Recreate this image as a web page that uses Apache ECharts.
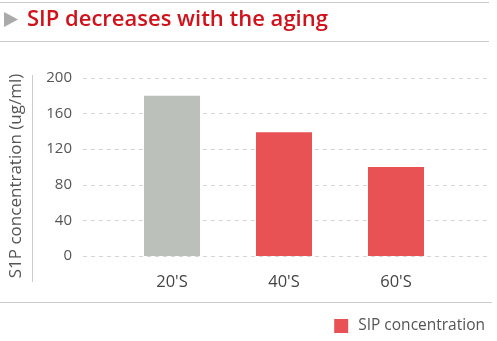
<!DOCTYPE html>
<html>
<head>
<meta charset="utf-8">
<script src="https://cdn.jsdelivr.net/npm/echarts@6/dist/echarts.min.js"></script>
<style>
  html, body { margin: 0; padding: 0; background: #fff; }
  #chart { width: 497px; height: 341px; }
</style>
</head>
<body>
<div id="chart"></div>
<script>
// Age groups and S1P concentration (ug/ml)
const categories = ["20'S", "40'S", "60'S"];
const values = [180, 139, 100];
const barColors = ['#bcc0ba', '#e85255', '#e85255'];
const seriesName = 'SIP concentration';
const yTicks = { min: 0, max: 200, interval: 40 };

const FONT = '"Open Sans", "Noto Sans", sans-serif';

const chart = echarts.init(document.getElementById('chart'), null, { renderer: 'canvas' });

chart.setOption({
  backgroundColor: '#ffffff',
  animation: false,
  title: {
    text: 'SIP decreases with the aging',
    left: 22,
    top: 4,
    textStyle: { color: '#d0121b', fontSize: 22, fontWeight: 600, fontFamily: FONT }
  },
  legend: {
    data: [seriesName],
    right: 7,
    top: 313,
    icon: 'rect',
    itemWidth: 14,
    itemHeight: 14,
    textStyle: { color: '#555', fontSize: 15.5, fontFamily: FONT, padding: [0, 0, 0, 5] }
  },
  grid: [
    { left: 82, right: 7, top: 78, height: 178 },
    { left: 116, width: 336, top: 78, height: 178 }
  ],
  xAxis: [
    { gridIndex: 0, type: 'value', show: false },
    {
      gridIndex: 1,
      type: 'category',
      data: categories,
      axisLine: { show: false },
      axisTick: { show: false },
      axisLabel: { color: '#444', fontSize: 16.5, fontFamily: FONT, margin: 18 }
    }
  ],
  yAxis: [
    {
      gridIndex: 0,
      type: 'value',
      min: yTicks.min,
      max: yTicks.max,
      interval: yTicks.interval,
      name: 'S1P concentration (ug/ml)',
      nameLocation: 'middle',
      nameGap: 58,
      nameTextStyle: { color: '#555', fontSize: 17, fontFamily: FONT, padding: [0, 18, 0, 0] },
      axisLine: { show: false },
      axisTick: { show: false },
      axisLabel: { color: '#555', fontSize: 15, fontFamily: FONT, margin: 11 },
      splitLine: { lineStyle: { color: '#d6d6d6', type: [4, 4], width: 1 } }
    },
    {
      gridIndex: 1,
      type: 'value',
      min: yTicks.min,
      max: yTicks.max,
      show: false,
      splitLine: { show: false }
    }
  ],
  series: [
    {
      name: seriesName,
      type: 'bar',
      xAxisIndex: 1,
      yAxisIndex: 1,
      barWidth: '50%',
      itemStyle: { color: '#e85255' },
      data: values.map((v, i) => ({ value: v, itemStyle: { color: barColors[i] } }))
    }
  ],
  graphic: [
    { type: 'line', shape: { x1: 0, y1: 2.5, x2: 489, y2: 2.5 }, style: { stroke: '#cccccc', lineWidth: 1 } },
    { type: 'line', shape: { x1: 0, y1: 41.5, x2: 489, y2: 41.5 }, style: { stroke: '#cccccc', lineWidth: 1 } },
    { type: 'polygon', shape: { points: [[4, 12], [18, 19.5], [4, 27]] }, style: { fill: '#aaaaaa' } },
    { type: 'line', shape: { x1: 32.5, y1: 75, x2: 32.5, y2: 282 }, style: { stroke: '#cccccc', lineWidth: 1 } },
    { type: 'line', shape: { x1: 0, y1: 302.5, x2: 492, y2: 302.5 }, style: { stroke: '#cccccc', lineWidth: 1 } }
  ]
});
</script>
</body>
</html>
